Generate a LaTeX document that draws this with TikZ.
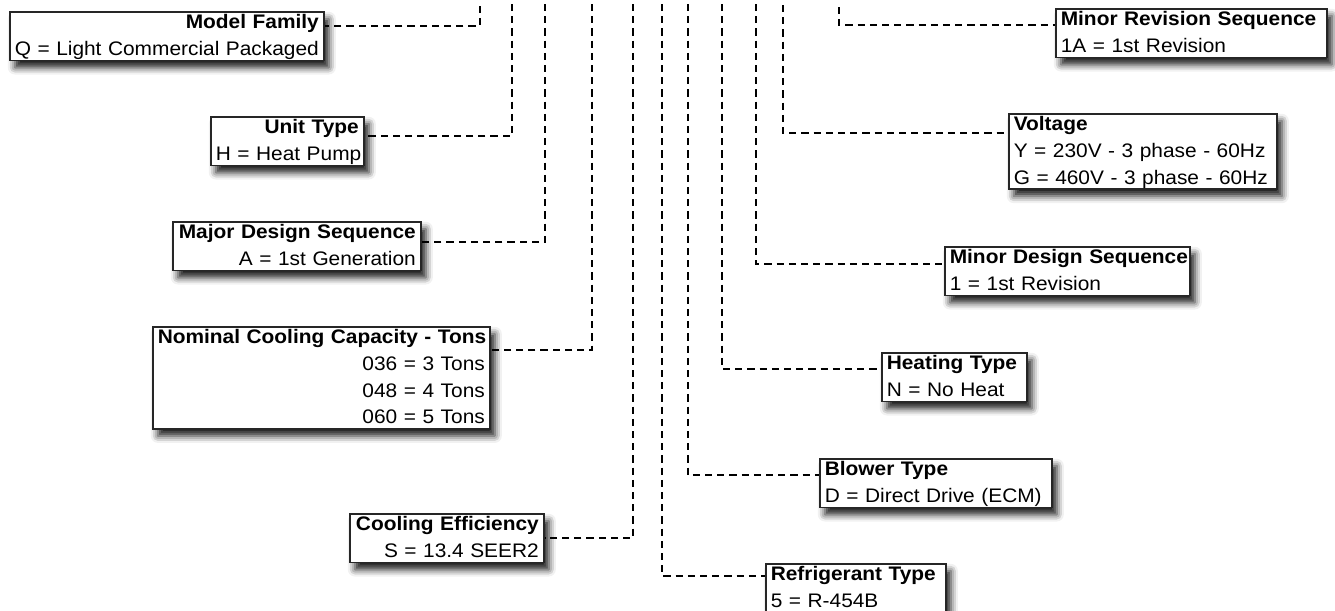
\documentclass[tikz,border=0pt]{standalone}
\usepackage{fontspec}
\setmainfont{Liberation Sans}[FakeStretch=1.065]
\usetikzlibrary{shadows.blur}
\newcommand{\topst}{\rule{0pt}{8.5pt}}
\newcommand{\botst}{\rule[-2.5pt]{0pt}{2.5pt}}
\begin{document}
\begin{tikzpicture}[x=0.5pt,y=-0.5pt,
  infobox/.style={draw=black!85, line width=0.8pt, fill=white, anchor=north west,
    inner xsep=2.5pt, inner ysep=0pt, font=\fontsize{9.8}{13.35}\selectfont,
    blur shadow={shadow xshift=2.5pt, shadow yshift=-3.5pt, shadow blur radius=3.5pt, shadow opacity=90}},
  rbox/.style={infobox, align=right},
  lbox/.style={infobox, align=left},
  conn/.style={draw=black, line width=1.3pt, dash pattern=on 3.6pt off 2.5pt}]
\useasboundingbox (0,0) rectangle (1335,611);

% left-hand boxes (right aligned)
\node[rbox, text width=152pt] (mf) at (9,11)
  {\mbox{\topst\textbf{Model Family}}\\\mbox{Q = Light Commercial Packaged\botst}};
\node[rbox, text width=71.5pt] (ut) at (210,116)
  {\mbox{\topst\textbf{Unit Type}}\\\mbox{H = Heat Pump\botst}};
\node[rbox, text width=119pt] (md) at (172,221)
  {\mbox{\topst\textbf{Major Design Sequence}}\\\mbox{A = 1st Generation\botst}};
\node[rbox, text width=163.5pt] (nc) at (152,326)
  {\mbox{\topst\textbf{Nominal Cooling Capacity - Tons}}\\\mbox{036 = 3 Tons}\\\mbox{048 = 4 Tons}\\\mbox{060 = 5 Tons\botst}};
\node[rbox, text width=92pt] (ce) at (349,513)
  {\mbox{\topst\textbf{Cooling Efficiency}}\\\mbox{S = 13.4 SEER2\botst}};

% right-hand boxes (left aligned)
\node[lbox, text width=85pt] (rt) at (765,563)
  {\mbox{\topst\textbf{Refrigerant Type}}\\\mbox{5 = R-454B\botst}};
\node[lbox, text width=111pt] (bt) at (819,458)
  {\mbox{\topst\textbf{Blower Type}}\\\mbox{D = Direct Drive (ECM)\botst}};
\node[lbox, text width=67.5pt] (ht) at (881,352)
  {\mbox{\topst\textbf{Heating Type}}\\\mbox{N = No Heat\botst}};
\node[lbox, text width=117.5pt] (mds) at (944,246)
  {\mbox{\topst\textbf{Minor Design Sequence}}\\\mbox{1 = 1st Revision\botst}};
\node[lbox, text width=129pt] (vo) at (1008,113)
  {\mbox{\topst\textbf{Voltage}}\\\mbox{Y = 230V - 3 phase - 60Hz}\\\mbox{G = 460V - 3 phase - 60Hz\botst}};
\node[lbox, text width=130.5pt] (mr) at (1055,8)
  {\mbox{\topst\textbf{Minor Revision Sequence}}\\\mbox{1A = 1st Revision\botst}};

% connector tops and corners
\coordinate (t1) at (480,6);   \coordinate (k1) at (480,26);
\coordinate (t2) at (512,4);   \coordinate (k2) at (512,136);
\coordinate (t3) at (545,4);   \coordinate (k3) at (545,242);
\coordinate (t4) at (592,4);   \coordinate (k4) at (592,350);
\coordinate (t5) at (633,4);   \coordinate (k5) at (633,538);
\coordinate (t6) at (662,4);   \coordinate (k6) at (662,576);
\coordinate (t7) at (688,4);   \coordinate (k7) at (688,475);
\coordinate (t8) at (722,4);   \coordinate (k8) at (722,369);
\coordinate (t9) at (756,4);   \coordinate (k9) at (756,264);
\coordinate (t10) at (783,5);  \coordinate (k10) at (783,133);
\coordinate (t11) at (839,7);  \coordinate (k11) at (839,25);

\draw[conn] (t1) -- (k1) -- (mf.east |- k1);
\draw[conn] (t2) -- (k2) -- (ut.east |- k2);
\draw[conn] (t3) -- (k3) -- (md.east |- k3);
\draw[conn] (t4) -- (k4) -- (nc.east |- k4);
\draw[conn] (t5) -- (k5) -- (ce.east |- k5);
\draw[conn] (t6) -- (k6) -- (rt.west |- k6);
\draw[conn] (t7) -- (k7) -- (bt.west |- k7);
\draw[conn] (t8) -- (k8) -- (ht.west |- k8);
\draw[conn] (t9) -- (k9) -- (mds.west |- k9);
\draw[conn] (t10) -- (k10) -- (vo.west |- k10);
\draw[conn] (t11) -- (k11) -- (mr.west |- k11);
\end{tikzpicture}
\end{document}
